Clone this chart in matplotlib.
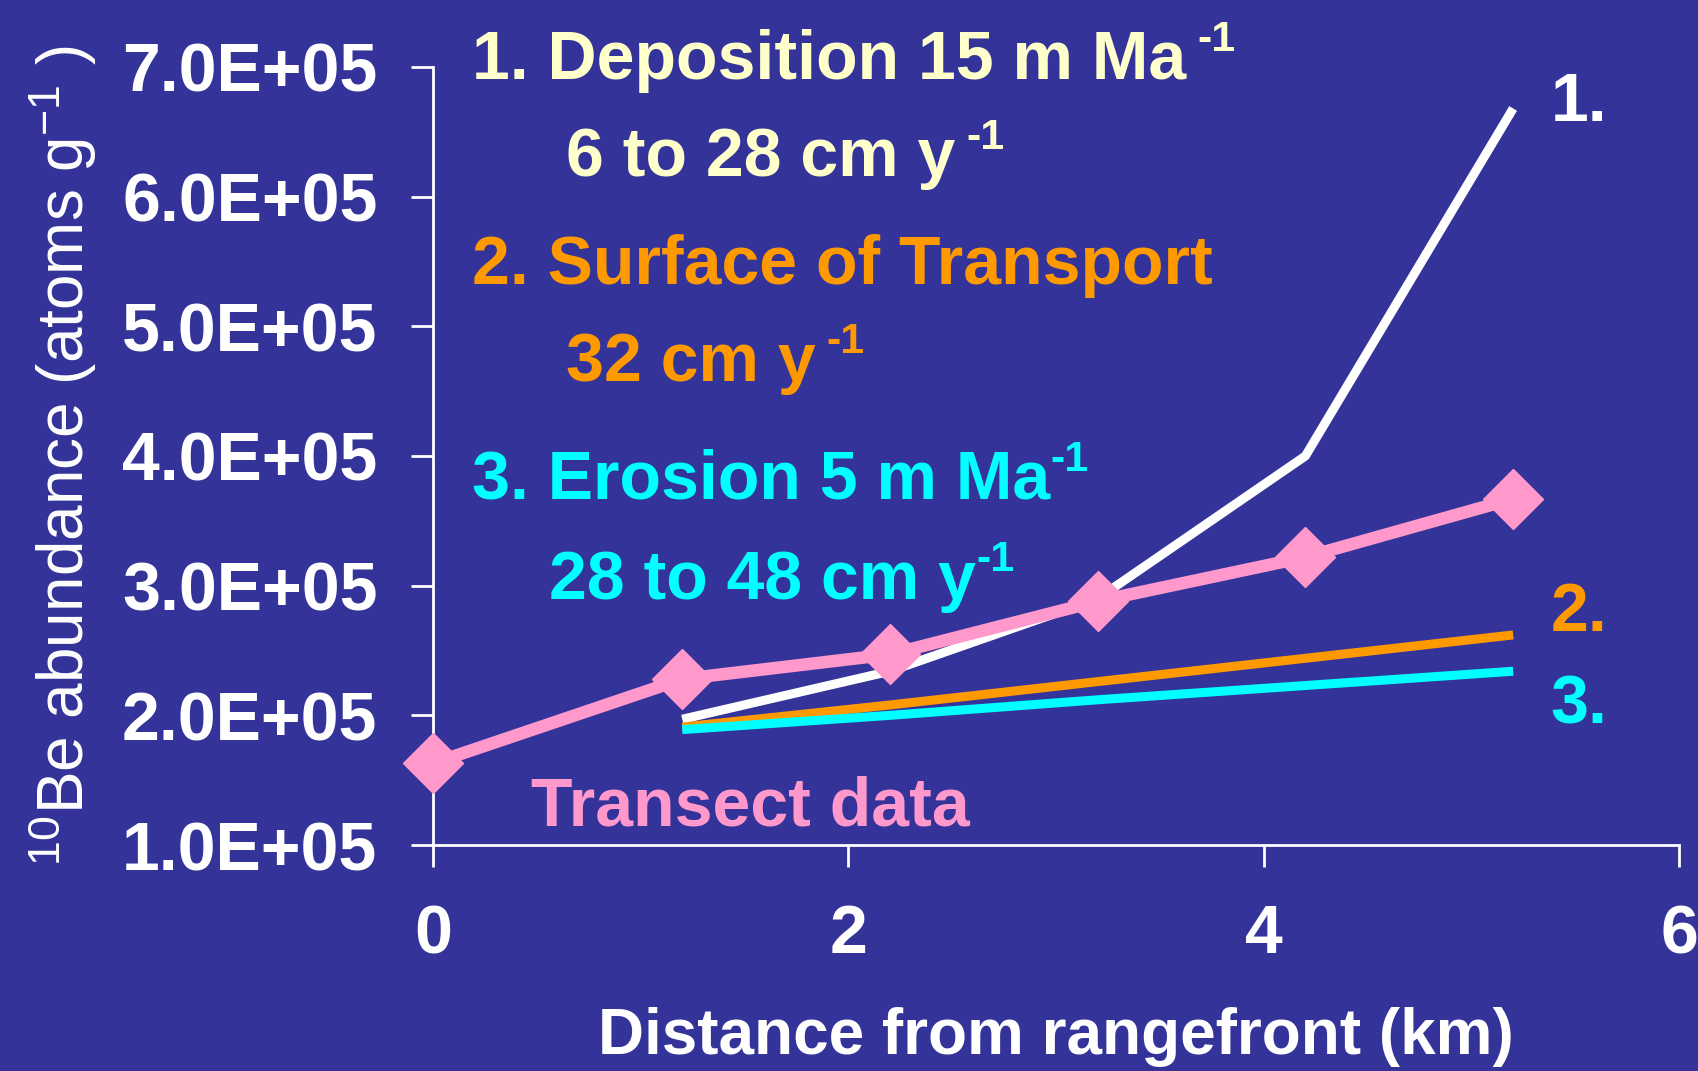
import numpy as np
import matplotlib
matplotlib.use('Agg')
import matplotlib.pyplot as plt
from matplotlib import font_manager

# distance from rangefront (km)
dist_data = [0.0, 1.2, 2.2, 3.2, 4.2, 5.2]
dist_model = [1.2, 2.2, 3.2, 4.2, 5.2]

# 10Be abundance (atoms/g)
transect = [1.63e5, 2.28e5, 2.47e5, 2.88e5, 3.22e5, 3.67e5]
deposition = [1.97e5, 2.34e5, 2.90e5, 4.00e5, 6.68e5]
transport = [1.91e5, 2.08e5, 2.26e5, 2.44e5, 2.62e5]
erosion = [1.89e5, 2.00e5, 2.12e5, 2.23e5, 2.34e5]

bg = '#333399'
c_pink = '#FF99CC'
c_orange = '#FF9900'
c_cyan = '#00FFFF'
c_yellow = '#FFFFCC'

names = {f.name for f in font_manager.fontManager.ttflist}
narrow = 'Liberation Sans Narrow' if 'Liberation Sans Narrow' in names else 'Liberation Sans'

plt.rcParams['font.family'] = ['Liberation Sans', 'DejaVu Sans']
plt.rcParams['font.weight'] = 'bold'
plt.rcParams['mathtext.fontset'] = 'custom'
plt.rcParams['mathtext.default'] = 'regular'

fig = plt.figure(figsize=(16.98, 10.71), dpi=100, facecolor=bg)
ax = fig.add_axes([0.255, 0.211, 0.734, 0.7265])
ax.set_facecolor(bg)

ax.plot(dist_model, deposition, color='white', lw=6.5, solid_capstyle='butt', zorder=3)
ax.plot(dist_model, transport, color=c_orange, lw=6.5, solid_capstyle='butt', zorder=3)
ax.plot(dist_model, erosion, color=c_cyan, lw=6.5, solid_capstyle='butt', zorder=3)
ax.plot(dist_data, transect, color=c_pink, lw=9, marker='D', ms=31, zorder=4,
        clip_on=False)

ax.set_xlim(0, 6)
ax.set_ylim(1e5, 7e5)
ax.set_xticks([0, 2, 4, 6])
ax.set_yticks(np.arange(1e5, 7.01e5, 1e5))
ax.set_yticklabels(['%.1fE+05' % (v / 1e5) for v in np.arange(1e5, 7.01e5, 1e5)])

for s in ['top', 'right']:
    ax.spines[s].set_visible(False)
for s in ['left', 'bottom']:
    ax.spines[s].set_color('white')
    ax.spines[s].set_linewidth(2)
ax.tick_params(axis='both', colors='white', width=2, length=16, direction='out',
               labelsize=49)
ax.tick_params(axis='y', pad=24)
ax.tick_params(axis='x', pad=26)
for lab in ax.get_xticklabels() + ax.get_yticklabels():
    lab.set_fontweight('bold')

ax.set_xlabel('Distance from rangefront (km)', fontsize=46, fontweight='bold', color='white')
ax.xaxis.set_label_coords(0.5, -0.247)
ax.xaxis.label.set_va('center')

ax.set_ylabel(r'$^{10}$Be abundance (atoms g$^{-1}$ )', fontsize=46, color='white',
              family=narrow, fontweight='normal')
ax.yaxis.set_label_coords(-0.297, 0.5)
ax.yaxis.label.set_va('center')


def note(x, y, main, sup, color, gap):
    t = ax.text(x, y, main, color=color, fontsize=49, fontweight='bold',
                ha='left', va='baseline', zorder=5)
    if sup:
        ax.annotate(sup, xy=(1, 1), xycoords=t, xytext=(gap, 6),
                    textcoords='offset points', ha='left', va='top',
                    color=color, fontsize=31, fontweight='bold')


note(0.19, 6.91e5, '1. Deposition 15 m Ma', '-1', c_yellow, 8)
note(0.64, 6.16e5, '6 to 28 cm y', '-1', c_yellow, 8)
note(0.19, 5.33e5, '2. Surface of Transport', '', c_orange, 0)
note(0.64, 4.58e5, '32 cm y', '-1', c_orange, 8)
note(0.19, 3.67e5, '3. Erosion 5 m Ma', '-1', c_cyan, 0)
note(0.56, 2.90e5, '28 to 48 cm y', '-1', c_cyan, 0)
note(0.47, 1.15e5, 'Transect data', '', c_pink, 0)

ax.text(5.38, 6.58e5, '1.', color='white', fontsize=49, fontweight='bold', va='baseline')
ax.text(5.38, 2.65e5, '2.', color=c_orange, fontsize=49, fontweight='bold', va='baseline')
ax.text(5.38, 1.94e5, '3.', color=c_cyan, fontsize=49, fontweight='bold', va='baseline')

fig.savefig('out.png', dpi=100, facecolor=bg)
